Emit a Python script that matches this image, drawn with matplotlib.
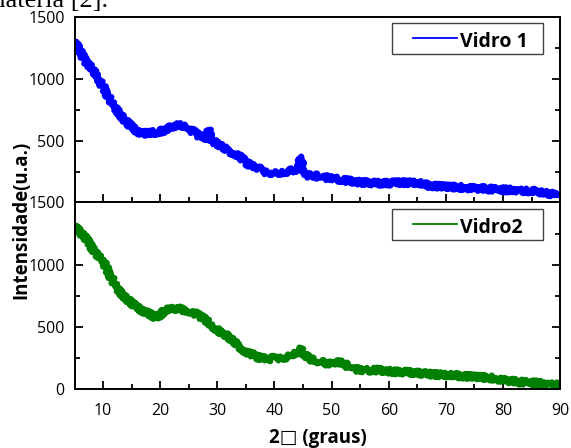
import matplotlib
matplotlib.use("Agg")
import matplotlib.pyplot as plt
from matplotlib.patches import Rectangle

x_vidro1 = [5, 6, 7, 8, 9, 10, 11, 12, 13, 14, 15, 16, 17, 18, 19, 20, 21, 22, 23, 24,
            25, 26, 27, 28, 28.3, 28.5, 28.7, 29, 30, 31, 32, 33, 34, 35, 36, 37, 38, 39,
            40, 41, 42, 43, 44, 44.4, 44.6, 44.8, 45, 46, 47, 48, 50, 52, 55, 58, 60, 61,
            63, 65, 67, 70, 73, 76, 80, 83, 86, 88, 90]
y_vidro1 = [1300, 1220, 1128, 1088, 1007, 935, 846, 774, 709, 653, 613, 572, 556, 564, 564,
            572, 588, 613, 620, 620, 596, 564, 532, 524, 530, 590, 520, 500, 475, 443, 415,
            395, 371, 322, 298, 282, 250, 242, 242, 242, 250, 258, 270, 290, 370, 290, 250,
            215, 218, 202, 200, 180, 163, 155, 155, 160, 160, 158, 137, 128, 120, 113, 103,
            97, 89, 73, 56]

x_vidro2 = [5, 6, 7, 8, 9, 10, 11, 12, 13, 14, 15, 16, 17, 18, 19, 20, 21, 22, 23, 24,
            25, 26, 27, 28, 29, 30, 31, 32, 33, 34, 35, 36, 37, 38, 39, 40, 41, 42, 43, 44,
            44.6, 45, 46, 47, 48, 49, 50, 51, 52, 53, 54, 56, 58, 60, 61, 63, 65, 67, 70,
            73, 76, 78, 80, 83, 86, 88, 90]
y_vidro2 = [1315, 1259, 1211, 1139, 1075, 1035, 930, 850, 778, 730, 690, 658, 626, 609, 580,
            593, 642, 642, 650, 634, 618, 609, 585, 553, 513, 473, 449, 417, 375, 337, 297,
            281, 257, 249, 241, 249, 249, 257, 281, 297, 321, 289, 249, 225, 217, 209, 209,
            217, 209, 177, 160, 152, 152, 144, 138, 136, 128, 120, 112, 104, 96, 88, 72, 56,
            48, 40, 32]

series = [(x_vidro1, y_vidro1, "#0000ff", "Vidro 1"),
          (x_vidro2, y_vidro2, "#008000", "Vidro2")]

plt.rcParams["font.family"] = ["Open Sans", "DejaVu Sans"]

fig = plt.figure(figsize=(5.71, 4.48), dpi=100)
ax1 = fig.add_axes([0.1305, 0.548, 0.8505, 0.415])
ax2 = fig.add_axes([0.1305, 0.1317, 0.8505, 0.4163], sharex=ax1)

for ax, (xs, ys, cor, nome) in zip([ax1, ax2], series):
    linha, = ax.plot(xs, ys, color=cor, lw=4.5, solid_joinstyle="round")
    # aspecto "ruidoso" do sinal de DRX (apenas estilo de desenho)
    linha.set_sketch_params(scale=2.5, length=1.2, randomness=2)
    ax.set_xlim(5, 90)
    ax.set_ylim(0, 1500)
    ax.set_yticks([0, 500, 1000, 1500])
    ax.set_yticks([250, 750, 1250], minor=True)
    ax.set_xticks(range(10, 91, 10))
    ax.set_xticks(range(5, 91, 10), minor=True)
    ax.tick_params(which="both", direction="in", top=False, right=True, width=1.3,
                   labelsize=11.5)
    ax.tick_params(which="major", length=5.5, pad=7)
    ax.tick_params(which="minor", length=3.5)
    for s in ax.spines.values():
        s.set_linewidth(1.4)
    # legenda desenhada como no original (caixa com linha e texto)
    ax.add_patch(Rectangle((0.653, 0.80), 0.312, 0.165, transform=ax.transAxes,
                           fill=False, edgecolor="#404040", lw=1.0))
    ax.plot([0.698, 0.788], [0.885, 0.885], transform=ax.transAxes, color=cor, lw=1.3)
    ax.text(0.794, 0.865, nome, transform=ax.transAxes, fontsize=14,
            fontweight="bold", va="center", ha="left")

ax1.tick_params(labelbottom=False)
ax1.set_yticklabels(["", "500", "1000", "1500"])
ax2.tick_params(axis="x", pad=10)

fig.text(0.037, 0.51, "Intensidade(u.a.)", rotation=90, fontsize=13.5,
         fontweight="bold", ha="center", va="center")
fig.text(0.556, 0.022, "2\u25a1 (graus)", fontsize=13.5, fontweight="bold",
         ha="center", va="center")
fig.text(0.19, 0.984, "matéria [2].", fontsize=19, family="Liberation Serif",
         ha="right", va="baseline")

fig.savefig("out.png", dpi=100)
